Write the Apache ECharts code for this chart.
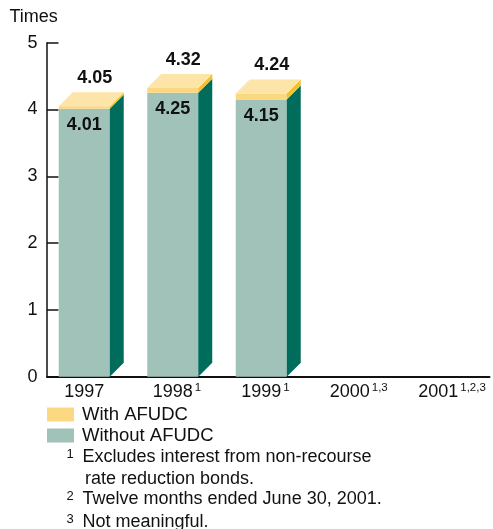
<!DOCTYPE html>
<html>
<head>
<meta charset="utf-8">
<script src="https://cdn.jsdelivr.net/npm/echarts@6/dist/echarts.min.js"></script>
<style>
  html, body { margin: 0; padding: 0; background: #fff; }
  #chart { width: 493px; height: 529px; }
</style>
</head>
<body>
<div id="chart"></div>
<script>
// Interest coverage, times
const years = ['1997', '1998', '1999', '2000', '2001'];
const yearNotes = ['', '1', '1', '1,3', '1,2,3'];
const withoutAfudc = [4.01, 4.25, 4.15, null, null];
const withAfudc = [4.05, 4.32, 4.24, null, null];
const yTicks = [0, 1, 2, 3, 4, 5];
const footnotes = [
  ['1', 'Excludes interest from non-recourse'],
  ['', 'rate reduction bonds.'],
  ['2', 'Twelve months ended June 30, 2001.'],
  ['3', 'Not meaningful.']
];

const FONT = '"Liberation Sans", Arial, Helvetica, sans-serif';
const C = {
  front: '#a0c2b9',
  side: '#006c5b',
  yellowFront: '#fbd77f',
  yellowSide: '#f2c12e',
  yellowTop: '#fde4a8',
  legendYellow: '#fbd982'
};
const DEPTH = 14;

function barGeom(api, idx) {
  const band = api.size([1, 0])[0];
  const fw = band * 0.576;
  const cx = api.coord([idx, 0])[0];
  const x0 = cx - (fw + DEPTH) / 2;
  return { x0: x0, x1: x0 + fw, fw: fw, base: api.coord([idx, 0])[1] };
}

function poly(points, fill) {
  return { type: 'polygon', shape: { points: points }, style: { fill: fill } };
}

// Lower block: from zero to the coverage without AFUDC
function renderLower(params, api) {
  const idx = api.value(0);
  const v = api.value(1);
  if (v == null || isNaN(v)) return;
  const g = barGeom(api, idx);
  const top = api.coord([idx, v])[1];
  const d = DEPTH;
  return {
    type: 'group',
    children: [
      { type: 'rect', shape: { x: g.x0, y: top, width: g.fw, height: g.base - top }, style: { fill: C.front } },
      poly([[g.x1, g.base], [g.x1, top], [g.x1 + d, top - d], [g.x1 + d, g.base - d]], C.side),
      {
        type: 'text', z2: 10,
        style: {
          text: v.toFixed(2), x: g.x0 + g.fw / 2, y: top + 16.5,
          align: 'center', verticalAlign: 'middle',
          font: 'bold 18px ' + FONT, fill: '#111'
        }
      }
    ]
  };
}

// Upper block: the AFUDC increment, with the bar's top face
function renderUpper(params, api) {
  const idx = api.value(0);
  const lo = api.value(1);
  const hi = api.value(2);
  if (hi == null || isNaN(hi)) return;
  const g = barGeom(api, idx);
  const yLo = api.coord([idx, lo])[1];
  const yHi = api.coord([idx, hi])[1];
  const d = DEPTH;
  return {
    type: 'group',
    children: [
      { type: 'rect', shape: { x: g.x0, y: yHi, width: g.fw, height: yLo - yHi }, style: { fill: C.yellowFront } },
      poly([[g.x1, yLo], [g.x1, yHi], [g.x1 + d, yHi - d], [g.x1 + d, yLo - d]], C.yellowSide),
      poly([[g.x0, yHi], [g.x1, yHi], [g.x1 + d, yHi - d], [g.x0 + d, yHi - d]], C.yellowTop),
      {
        type: 'text', z2: 10,
        style: {
          text: hi.toFixed(2), x: g.x0 + (g.fw + d) / 2 + 3.5, y: yHi - d - 14,
          align: 'center', verticalAlign: 'middle',
          font: 'bold 18px ' + FONT, fill: '#111'
        }
      }
    ]
  };
}

const lowerData = years.map((y, i) => [i, withoutAfudc[i]]);
const upperData = years.map((y, i) => [i, withoutAfudc[i], withAfudc[i]]);

const footGraphics = [];
const footY = [457.2, 478.9, 499.2, 521.6];
footnotes.forEach((f, i) => {
  if (f[0]) {
    footGraphics.push({
      type: 'text', left: 66.5, top: footY[i] - 9,
      style: { text: f[0], font: '13px ' + FONT, fill: '#111' }
    });
  }
  footGraphics.push({
    type: 'text', x: f[0] ? 82.5 : 85, y: footY[i],
    style: { text: f[1], font: '18px ' + FONT, fill: '#111', verticalAlign: 'middle' }
  });
});

const chart = echarts.init(document.getElementById('chart'), null, { renderer: 'canvas' });
chart.setOption({
  animation: false,
  backgroundColor: '#fff',
  textStyle: { fontFamily: FONT },
  title: {
    text: 'Times', left: 9.5, top: 8.5, padding: 0,
    textStyle: { fontSize: 18, fontWeight: 'normal', color: '#111', fontFamily: FONT }
  },
  legend: {
    orient: 'vertical', left: 47, top: 404.5, padding: 0,
    itemWidth: 27, itemHeight: 14, itemGap: 1,
    icon: 'rect',
    data: ['With AFUDC', 'Without AFUDC'],
    textStyle: { fontSize: 18.5, color: '#111', fontFamily: FONT, lineHeight: 20, padding: [0, 0, 0, 3] }
  },
  grid: { left: 47, right: 3.5, top: 42.7, bottom: 152.3, containLabel: false },
  xAxis: {
    type: 'category',
    data: years,
    boundaryGap: true,
    axisLine: { show: true, lineStyle: { color: '#111', width: 2 } },
    axisTick: { show: false },
    axisLabel: {
      interval: 0,
      hideOverlap: false,
      margin: 5,
      padding: [0, 14, 0, 0],
      formatter: function (value, idx) {
        const n = yearNotes[idx];
        return n ? '{pad|' + n + '}{y|' + value + '}{s|' + n + '}' : '{y|' + value + '}';
      },
      rich: {
        y: { fontSize: 18, color: '#111', fontFamily: FONT, lineHeight: 20 },
        s: { fontSize: 11.5, color: '#111', fontFamily: FONT, verticalAlign: 'top', lineHeight: 11, padding: [0, 0, 0, 2] },
        pad: { fontSize: 11.5, color: 'rgba(0,0,0,0)', fontFamily: FONT, verticalAlign: 'top', lineHeight: 11, padding: [0, 2, 0, 0] }
      }
    }
  },
  yAxis: {
    type: 'value',
    min: yTicks[0], max: yTicks[yTicks.length - 1], interval: 1,
    axisLine: { show: true, lineStyle: { color: '#111', width: 1.5 } },
    axisTick: { show: true, inside: true, length: 11.5, lineStyle: { color: '#111', width: 1.5 } },
    splitLine: { show: false },
    axisLabel: { fontSize: 18, color: '#111', fontFamily: FONT, margin: 9.5 }
  },
  graphic: footGraphics,
  series: [
    {
      name: 'Without AFUDC', type: 'custom', renderItem: renderLower,
      itemStyle: { color: C.front },
      encode: { x: 0, y: 1 }, data: lowerData, z: 2
    },
    {
      name: 'With AFUDC', type: 'custom', renderItem: renderUpper,
      itemStyle: { color: C.legendYellow },
      encode: { x: 0, y: [1, 2] }, data: upperData, z: 3
    }
  ]
});
</script>
</body>
</html>
